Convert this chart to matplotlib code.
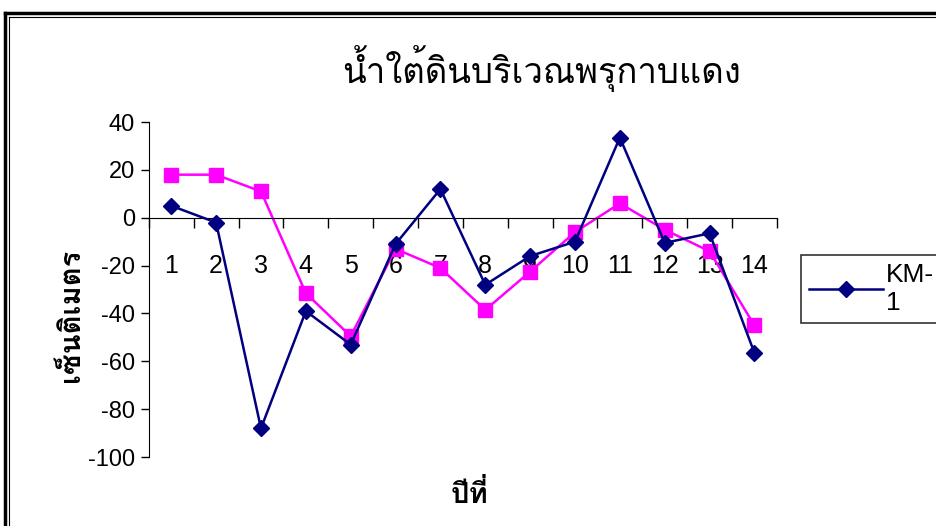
import matplotlib
matplotlib.use('Agg')
import matplotlib.pyplot as plt
from matplotlib import font_manager
from matplotlib.lines import Line2D

# ค้นหาฟอนต์ที่มีอักษรไทย
thai_font = 'DejaVu Sans'
try:
    from fontTools.ttLib import TTFont
    for f in font_manager.fontManager.ttflist:
        try:
            cmap = TTFont(f.fname, fontNumber=0, lazy=True).getBestCmap()
            if cmap and 0x0E19 in cmap:
                thai_font = f.name
                break
        except Exception:
            pass
except ImportError:
    pass

plt.rcParams['font.family'] = ['Liberation Sans', thai_font, 'DejaVu Sans']
plt.rcParams['axes.unicode_minus'] = False

# ====================== ข้อมูล ======================
years = list(range(1, 15))
km1 = [5, -2, -88, -39, -53, -11, 12, -28, -16, -10, 33.5, -10.5, -6.5, -56.5]
km2 = [18, 18, 11, -31.5, -49.5, -13, -21, -38.5, -22.5, -6, 6, -5, -14, -45]
yticks = [40, 20, 0, -20, -40, -60, -80, -100]

title = 'น้ำใต้ดินบริเวณพรุกาบแดง'
xlabel = 'ปีที่'
ylabel = 'เซ็นติเมตร'

# ====================== วาดกราฟ ======================
fig = plt.figure(figsize=(9.36, 5.26), dpi=100)
ax = fig.add_axes([0.159, 0.131, 0.671, 0.637])

ax.plot(years, km1, color='#000080', marker='D', markersize=8, linewidth=1.8, label='KM-\n1', zorder=3)
ax.plot(years, km2, color='#FF00FF', marker='s', markersize=10, linewidth=1.8, zorder=2)

ax.set_xlim(0.5, 14.5)
ax.set_ylim(-100, 40)
ax.set_yticks(yticks)
ax.tick_params(axis='y', direction='out', length=6, width=1, labelsize=17, pad=4)

# แกน x อยู่ที่ระดับ 0
ax.spines['bottom'].set_position(('data', 0))
ax.spines['top'].set_visible(False)
ax.spines['right'].set_visible(False)
ax.set_xticks(years)
ax.set_xticks([i + 0.5 for i in range(0, 15)], minor=True)
ax.tick_params(axis='x', which='major', length=0, labelsize=18, pad=26)
ax.tick_params(axis='x', which='minor', direction='out', length=7, width=1)

fig.text(0.578, 0.87, title, family=[thai_font, 'DejaVu Sans'], fontsize=25, ha='center', va='center')
fig.text(0.502, 0.06, xlabel, family=[thai_font, 'DejaVu Sans'], fontsize=21, fontweight='bold',
         ha='center', va='center')
fig.text(0.076, 0.40, ylabel, family=[thai_font, 'DejaVu Sans'], fontsize=21, fontweight='bold',
         ha='center', va='center', rotation=90)

leg = ax.legend(loc='upper left', bbox_to_anchor=(0.856, 0.515), bbox_transform=fig.transFigure,
                borderaxespad=0, fontsize=19, frameon=True, fancybox=False, handlelength=2.8,
                handletextpad=0.1, borderpad=0.3, labelspacing=0.2)
leg.get_frame().set_edgecolor('black')
leg.get_frame().set_linewidth(1.2)

# กรอบคู่รอบรูป
fig.add_artist(Line2D([5 / 936, 5 / 936], [0, 1 - 13 / 526], transform=fig.transFigure, color='black', linewidth=2.5))
fig.add_artist(Line2D([5 / 936, 1], [1 - 13 / 526, 1 - 13 / 526], transform=fig.transFigure, color='black', linewidth=2.5))
fig.add_artist(Line2D([9 / 936, 9 / 936], [0, 1 - 17 / 526], transform=fig.transFigure, color='black', linewidth=0.8))
fig.add_artist(Line2D([9 / 936, 1], [1 - 17 / 526, 1 - 17 / 526], transform=fig.transFigure, color='black', linewidth=0.8))

fig.savefig('out.png', dpi=100)
